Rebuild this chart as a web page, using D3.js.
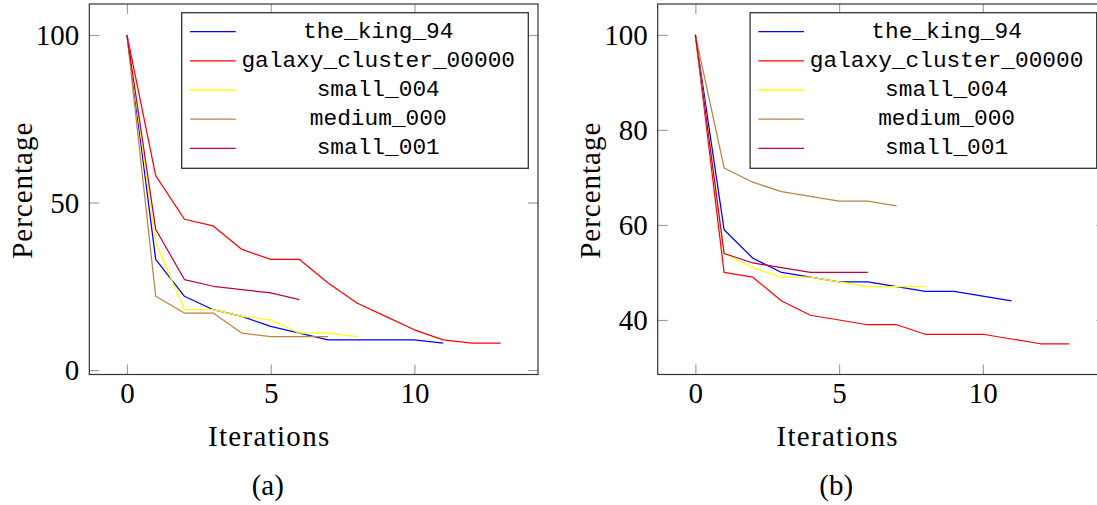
<!DOCTYPE html>
<html>
<head>
<meta charset="utf-8">
<script src="https://cdn.jsdelivr.net/npm/d3@7"></script>
<style>
  body { margin: 0; background: #fff; }
  svg { display: block; }
</style>
</head>
<body>
<svg width="1097" height="505"></svg>
<script>
"use strict";

// iterations are 0..n-1 for every series
var seriesNames = ["the_king_94", "galaxy_cluster_00000", "small_004", "medium_000", "small_001"];
var seriesColors = ["#0000ff", "#ff0000", "#ffff00", "#bf8040", "#bf0040"];

// panel (a)
var kingA = [100, 33, 22, 18, 16, 13, 11, 9, 9, 9, 9, 8];
var galaxyA = [100, 58, 45, 43, 36, 33, 33, 26, 20, 16, 12, 9, 8, 8];
var small004A = [100, 38, 18, 18, 16, 15, 11, 11, 10];
var mediumA = [100, 22, 17, 17, 11, 10, 10, 10];
var small001A = [100, 42, 27, 25, 24, 23, 21];

// panel (b)
var kingB = [100, 59, 53, 50, 49, 48, 48, 47, 46, 46, 45, 44];
var galaxyB = [100, 50, 49, 44, 41, 40, 39, 39, 37, 37, 37, 36, 35, 35];
var small004B = [100, 54, 51, 49, 49, 48, 47, 47, 47];
var mediumB = [100, 72, 69, 67, 66, 65, 65, 64];
var small001B = [100, 54, 52, 51, 50, 50, 50];

var xTicks = [0, 5, 10];
var yTicksA = [0, 50, 100];
var yTicksB = [40, 60, 80, 100];

var serifFont = "'Liberation Serif', 'DejaVu Serif', serif";
var monoFont = "'Liberation Mono', 'DejaVu Sans Mono', monospace";

var svg = d3.select("svg");

function desenhaPainel(opts) {
    var w = 448.7, h = 370.5;
    var g = svg.append("g").attr("transform", "translate(" + opts.left + "," + opts.top + ")");

    var x = d3.scaleLinear().domain([-1.31, 14.3]).range([0, w]);
    var y = d3.scaleLinear().domain(opts.yDomain).range([h, 0]);

    var tick = 10;

    // ticks on all four sides, pointing inwards
    var gx = g.append("g").attr("transform", "translate(0," + h + ")")
        .call(d3.axisBottom(x).tickValues(xTicks).tickSize(-tick).tickPadding(8));
    g.append("g").call(d3.axisTop(x).tickValues(xTicks).tickSize(-tick).tickFormat(""));
    var gy = g.append("g")
        .call(d3.axisLeft(y).tickValues(opts.yTicks).tickSize(-tick).tickPadding(10));
    g.append("g").attr("transform", "translate(" + w + ",0)")
        .call(d3.axisRight(y).tickValues(opts.yTicks).tickSize(-tick).tickFormat(""));

    g.selectAll(".domain").remove();
    g.selectAll(".tick line").attr("stroke", "#a0a0a0").attr("stroke-width", 1.2);
    g.selectAll(".tick text")
        .attr("fill", "#000")
        .style("font-family", serifFont)
        .style("font-size", "29px");

    gx.selectAll(".tick text").attr("y", 8).attr("dy", "0.71em");
    gy.selectAll(".tick text").attr("dy", "0.34em");

    // series lines
    var line = d3.line()
        .x(function (d, i) { return x(i); })
        .y(function (d) { return y(d); });

    opts.series.forEach(function (s, i) {
        g.append("path")
            .datum(s)
            .attr("fill", "none")
            .attr("stroke", seriesColors[i])
            .attr("stroke-width", 1.25)
            .attr("stroke-linejoin", "round")
            .attr("d", line);
    });

    // frame
    g.append("rect")
        .attr("width", w).attr("height", h)
        .attr("fill", "none")
        .attr("stroke", "#333")
        .attr("stroke-width", 1.2);

    // legend
    var lx = 92.4, ly = 8.7, lw = w - 92.4 - 9.7, lh = 155.6;
    var leg = g.append("g").attr("transform", "translate(" + lx + "," + ly + ")");
    leg.append("rect")
        .attr("width", lw).attr("height", lh)
        .attr("fill", "#fff")
        .attr("stroke", "#333")
        .attr("stroke-width", 1.3);

    seriesNames.forEach(function (nome, i) {
        var cy = 19 + i * 29.15;
        leg.append("line")
            .attr("x1", 8.3).attr("x2", 54)
            .attr("y1", cy).attr("y2", cy)
            .attr("stroke", seriesColors[i])
            .attr("stroke-width", 1.3);
        leg.append("text")
            .attr("x", 196.5)
            .attr("y", cy + 6)
            .attr("text-anchor", "middle")
            .style("font-family", monoFont)
            .style("font-size", "22.8px")
            .text(nome);
    });

    // axis labels
    g.append("text")
        .attr("transform", "translate(" + (-57.6) + "," + (h / 2 + 1) + ") rotate(-90)")
        .attr("text-anchor", "middle")
        .style("font-family", serifFont)
        .style("font-size", "29px")
        .style("letter-spacing", "1px")
        .text("Percentage");

    g.append("text")
        .attr("x", 180)
        .attr("y", 442)
        .attr("text-anchor", "middle")
        .style("font-family", serifFont)
        .style("font-size", "29px")
        .style("letter-spacing", "1.3px")
        .text("Iterations");

    g.append("text")
        .attr("x", 178.5)
        .attr("y", 491)
        .attr("text-anchor", "middle")
        .style("font-family", serifFont)
        .style("font-size", "29px")
        .text(opts.caption);
}

desenhaPainel({
    left: 89.3, top: 4,
    yDomain: [-1.34, 109.25],
    yTicks: yTicksA,
    series: [kingA, galaxyA, small004A, mediumA, small001A],
    caption: "(a)"
});

desenhaPainel({
    left: 657.7, top: 4,
    yDomain: [28.53, 106.5],
    yTicks: yTicksB,
    series: [kingB, galaxyB, small004B, mediumB, small001B],
    caption: "(b)"
});
</script>
</body>
</html>
